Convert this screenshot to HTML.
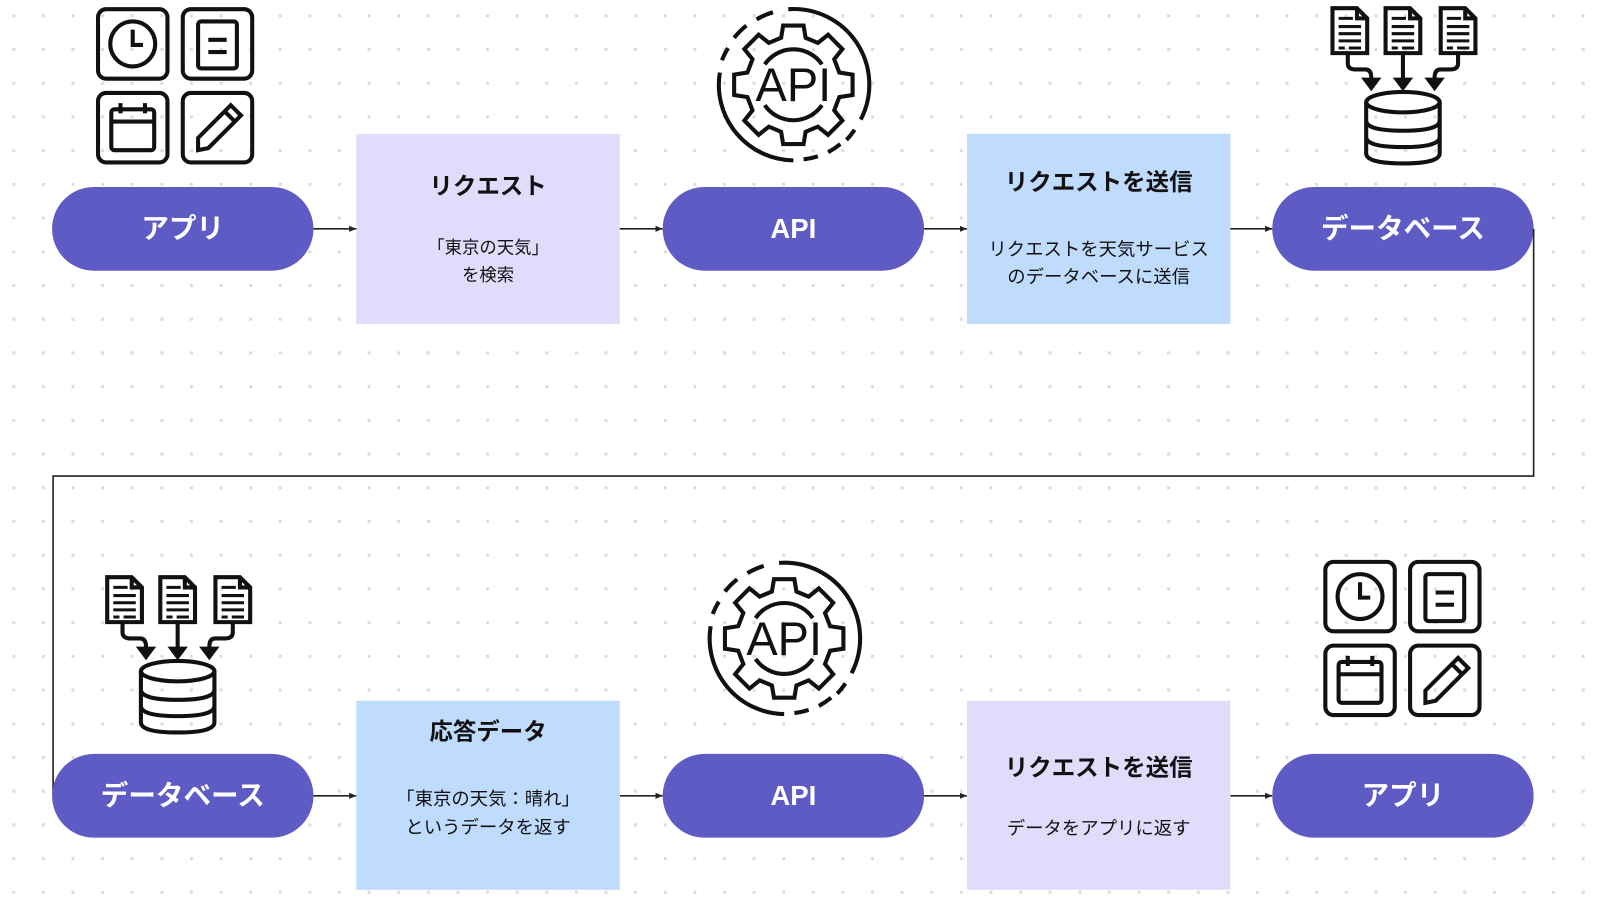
<!DOCTYPE html>
<html><head><meta charset="utf-8"><style>
html,body{margin:0;padding:0;background:#fff}
svg{display:block}
text{font-family:"Liberation Sans","Noto Sans CJK JP",sans-serif}
</style></head><body>
<svg width="1600" height="900" viewBox="0 0 1567 881" preserveAspectRatio="none" xmlns="http://www.w3.org/2000/svg">
<defs>
<pattern id="dots" x="12" y="14" width="29" height="33" patternUnits="userSpaceOnUse">
<rect x="0" y="0" width="3" height="3" fill="#dcdcdc"/>
</pattern>
<marker id="ar" markerWidth="8" markerHeight="8" refX="7" refY="4" orient="auto" markerUnits="userSpaceOnUse">
<path d="M0,1 L7,4 L0,7 Z" fill="#222"/>
</marker>
<g id="appicon" fill="none" stroke="#111" stroke-width="4">
<rect x="2" y="2" width="68" height="68" rx="8"/>
<rect x="85" y="2" width="68" height="68" rx="8"/>
<rect x="2" y="84" width="68" height="68" rx="8"/>
<rect x="85" y="84" width="68" height="68" rx="8"/>
<circle cx="36" cy="36" r="22"/>
<path d="M36 22 V37 H46"/>
<rect x="100" y="14" width="38" height="46" rx="3"/>
<path d="M110 32 H128 M110 44 H128"/>
<rect x="15" y="100" width="42" height="40" rx="3"/>
<path d="M15 112 H57 M24 94 V104 M48 94 V104"/>
<path d="M100 140 L100 128 L132 96 L142 106 L110 138 Z M126 102 L136 112"/>
</g>
<g id="dbicon" stroke="#111" stroke-width="4" fill="none">
<g id="doc"><path d="M2 2 H26 L36 12 V46 H2 Z M26 2 V12 H36"/><path d="M8 12 H22 M8 20 H30 M8 27 H30 M8 34 H30 M8 41 H14 M18 41 H30" stroke-width="3"/></g>
<use href="#doc" x="52"/><use href="#doc" x="106"/>
<path d="M17 46 V56 Q17 62 25 62 H34 Q40 62 40 70 V76" />
<path d="M71 46 V76"/>
<path d="M125 46 V56 Q125 62 117 62 H108 Q102 62 102 70 V76"/>
<path d="M34 72 L40 80 L46 72 Z M65 72 L71 80 L77 72 Z M96 72 L102 80 L108 72 Z" fill="#111"/>
<ellipse cx="71" cy="94" rx="36" ry="10"/>
<path d="M35 94 V144 Q35 154 71 154 Q107 154 107 144 V94"/>
<path d="M35 112 Q35 122 71 122 Q107 122 107 112 M35 128 Q35 138 71 138 Q107 138 107 128"/>
</g>
<g id="apiicon" fill="none" stroke="#111" stroke-width="4">
<path d="M-10 -58 L10 -58 L12 -46 L24 -41 L34 -49 L48 -35 L40 -25 L45 -12 L58 -10 L58 10 L45 12 L40 25 L48 35 L34 49 L24 41 L12 46 L10 58 L-10 58 L-12 46 L-24 41 L-34 49 L-48 35 L-40 25 L-45 12 L-58 10 L-58 -10 L-45 -12 L-40 -25 L-48 -35 L-34 -49 L-24 -41 L-12 -46 Z"/>
<path d="M-28 -20 A34 34 0 0 1 28 -20 M-28 20 A34 34 0 0 0 28 20"/>
<path d="M-5 -74 A74 74 0 0 1 66 34" />
<path d="M60 44 A74 74 0 0 1 52 54 M46 58 A74 74 0 0 1 34 66 M24 70 A74 74 0 0 1 10 73"/>
<path d="M0 74 A74 74 0 0 1 -72 -12"/>
<path d="M-70 -24 A74 74 0 0 1 -64 -36 M-58 -46 A74 74 0 0 1 -46 -58 M-36 -64 A74 74 0 0 1 -20 -71"/>
<text x="0" y="16" text-anchor="middle" font-size="46" fill="#111" stroke="none" font-family="Liberation Sans,sans-serif">API</text>
</g>
</defs>
<rect width="1567" height="881" fill="url(#dots)"/>

<use href="#appicon" x="94" y="7"/>
<use href="#apiicon" x="777" y="83"/>
<use href="#dbicon" x="1303" y="6"/>

<g font-weight="bold" fill="#fff" font-size="27" text-anchor="middle">
<rect x="51" y="183" width="256" height="82" rx="41" fill="#5f5bc4"/>
<text x="179" y="233">アプリ</text>
<rect x="649" y="183" width="256" height="82" rx="41" fill="#5f5bc4"/>
<text x="777" y="233">API</text>
<rect x="1246" y="183" width="256" height="82" rx="41" fill="#5f5bc4"/>
<text x="1374" y="233">データベース</text>
</g>

<rect x="349" y="131" width="258" height="186" fill="#e0dcfc"/>
<rect x="947" y="131" width="258" height="186" fill="#bfdbfe"/>
<g text-anchor="middle" fill="#111">
<text x="478" y="190" font-size="23" font-weight="bold">リクエスト</text>
<text x="478" y="248" font-size="17">「東京の天気」</text>
<text x="478" y="275" font-size="17">を検索</text>
<text x="1076" y="186" font-size="23" font-weight="bold">リクエストを送信</text>
<text x="1076" y="250" font-size="18">リクエストを天気サービス</text>
<text x="1076" y="277" font-size="18">のデータベースに送信</text>
</g>

<g stroke="#222" stroke-width="1.6" fill="none">
<line x1="307" y1="224" x2="349" y2="224" marker-end="url(#ar)"/>
<line x1="607" y1="224" x2="649" y2="224" marker-end="url(#ar)"/>
<line x1="905" y1="224" x2="947" y2="224" marker-end="url(#ar)"/>
<line x1="1205" y1="224" x2="1246" y2="224" marker-end="url(#ar)"/>
<path d="M1502 224 V466 H52 V778"/>
<line x1="307" y1="779" x2="349" y2="779" marker-end="url(#ar)"/>
<line x1="607" y1="779" x2="649" y2="779" marker-end="url(#ar)"/>
<line x1="905" y1="779" x2="947" y2="779" marker-end="url(#ar)"/>
<line x1="1205" y1="779" x2="1246" y2="779" marker-end="url(#ar)"/>
</g>

<use href="#dbicon" x="103" y="563"/>
<use href="#apiicon" x="768" y="625"/>
<use href="#appicon" x="1296" y="548"/>

<g font-weight="bold" fill="#fff" font-size="27" text-anchor="middle">
<rect x="51" y="738" width="256" height="82" rx="41" fill="#5f5bc4"/>
<text x="179" y="788">データベース</text>
<rect x="649" y="738" width="256" height="82" rx="41" fill="#5f5bc4"/>
<text x="777" y="788">API</text>
<rect x="1246" y="738" width="256" height="82" rx="41" fill="#5f5bc4"/>
<text x="1374" y="788">アプリ</text>
</g>

<rect x="349" y="686" width="258" height="185" fill="#bfdbfe"/>
<rect x="947" y="686" width="258" height="185" fill="#e0dcfc"/>
<g text-anchor="middle" fill="#111">
<text x="478" y="724" font-size="23" font-weight="bold">応答データ</text>
<text x="478" y="788" font-size="18">「東京の天気：晴れ」</text>
<text x="478" y="816" font-size="18">というデータを返す</text>
<text x="1076" y="759" font-size="23" font-weight="bold">リクエストを送信</text>
<text x="1076" y="817" font-size="18">データをアプリに返す</text>
</g>
</svg>
</body></html>
